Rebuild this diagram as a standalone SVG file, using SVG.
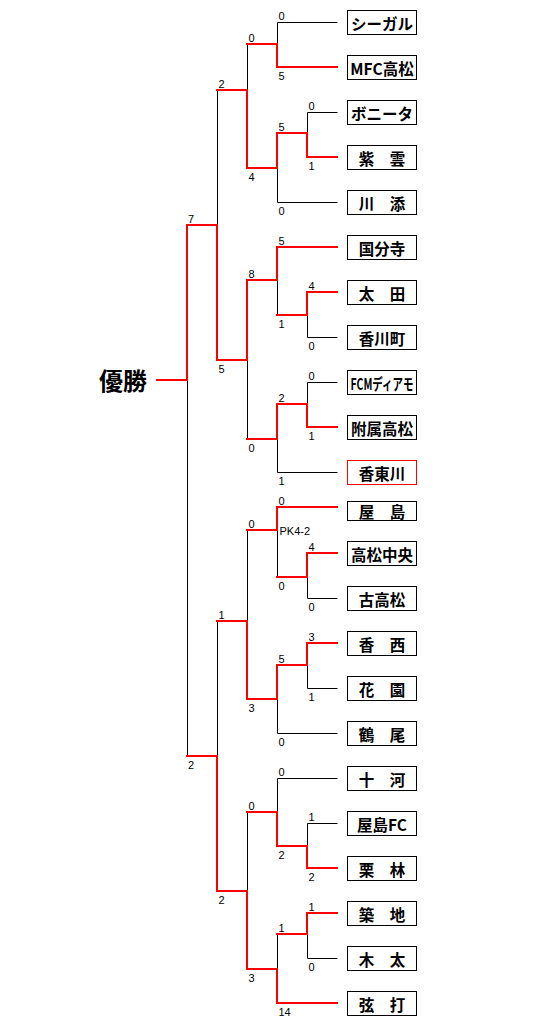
<svg xmlns="http://www.w3.org/2000/svg" width="540" height="1029" viewBox="0 0 540 1029">
<style>
.bk{fill:none;stroke:#000;stroke-width:1}
.rd{fill:none;stroke:#ff0000;stroke-width:2;stroke-linejoin:miter;stroke-linecap:square}
.box{fill:#fff;stroke:#000;stroke-width:1}
.boxr{fill:#fff;stroke:#ff0000;stroke-width:1}
.nm{font-family:"Noto Sans CJK JP","Liberation Sans",sans-serif;font-weight:bold;font-size:15.5px;text-anchor:middle;dominant-baseline:central;fill:#000}
.sc{font-family:"Liberation Sans",Arial,sans-serif;font-size:11px;fill:#000}
.win{font-family:"Noto Sans CJK JP","Liberation Sans",sans-serif;font-weight:bold;font-size:24px;text-anchor:middle;dominant-baseline:central;fill:#000}
</style>
<rect width="540" height="1029" fill="#fff"/>
<g id="connectors">
<g transform="translate(0.5,0.5)">
<polyline class="bk" points="337,22 277,22 277,44"/>
<polyline class="bk" points="337,112 307,112 307,133"/>
<polyline class="bk" points="277,168 277,202 337,202"/>
<polyline class="bk" points="247,44 247,90"/>
<polyline class="bk" points="217,90 217,225"/>
<polyline class="bk" points="307,315 307,337 337,337"/>
<polyline class="bk" points="277,280 277,315"/>
<polyline class="bk" points="337,382 307,382 307,404"/>
<polyline class="bk" points="277,439 277,472 337,472"/>
<polyline class="bk" points="247,360 247,439"/>
<polyline class="bk" points="187,380 187,756"/>
<polyline class="bk" points="307,577 307,598 337,598"/>
<polyline class="bk" points="277,530 277,577"/>
<polyline class="bk" points="307,665 307,688 337,688"/>
<polyline class="bk" points="277,699 277,733 337,733"/>
<polyline class="bk" points="247,530 247,621"/>
<polyline class="bk" points="217,621 217,756"/>
<polyline class="bk" points="337,778 277,778 277,812"/>
<polyline class="bk" points="337,823 307,823 307,846"/>
<polyline class="bk" points="247,812 247,891"/>
<polyline class="bk" points="307,934 307,958 337,958"/>
<polyline class="bk" points="277,934 277,969"/>
</g>
<polyline class="rd" points="337,67 277,67 277,44 247,44"/>
<polyline class="rd" points="337,157 307,157 307,133 277,133 277,168 247,168 247,90 217,90"/>
<polyline class="rd" points="337,247 277,247 277,280 247,280 247,360 217,360 217,225 187,225 187,380 157,380"/>
<polyline class="rd" points="337,292 307,292 307,315 277,315"/>
<polyline class="rd" points="337,427 307,427 307,404 277,404 277,439 247,439"/>
<polyline class="rd" points="337,507 277,507 277,530 247,530"/>
<polyline class="rd" points="337,553 307,553 307,577 277,577"/>
<polyline class="rd" points="337,643 307,643 307,665 277,665 277,699 247,699 247,621 217,621"/>
<polyline class="rd" points="337,868 307,868 307,846 277,846 277,812 247,812"/>
<polyline class="rd" points="337,913 307,913 307,934 277,934"/>
<polyline class="rd" points="337,1003 277,1003 277,969 247,969 247,891 217,891 217,756 187,756"/>
</g>
<g id="scores">
<text class="sc" x="278.5" y="19.5">0</text><text class="sc" x="278.5" y="79.5">5</text>
<text class="sc" x="308.5" y="109.5">0</text><text class="sc" x="308.5" y="169.5">1</text>
<text class="sc" x="278.5" y="130.5">5</text><text class="sc" x="278.5" y="214.5">0</text>
<text class="sc" x="248.5" y="41.5">0</text><text class="sc" x="248.5" y="180.5">4</text>
<text class="sc" x="218.5" y="87.5">2</text><text class="sc" x="218.5" y="372.5">5</text>
<text class="sc" x="278.5" y="244.5">5</text><text class="sc" x="278.5" y="327.5">1</text>
<text class="sc" x="308.5" y="289.5">4</text><text class="sc" x="308.5" y="349.5">0</text>
<text class="sc" x="248.5" y="277.5">8</text><text class="sc" x="248.5" y="451.5">0</text>
<text class="sc" x="308.5" y="379.5">0</text><text class="sc" x="308.5" y="439.5">1</text>
<text class="sc" x="278.5" y="401.5">2</text><text class="sc" x="278.5" y="484.5">1</text>
<text class="sc" x="188" y="222.5">7</text><text class="sc" x="188" y="768.5">2</text>
<text class="sc" x="278.5" y="504.5">0</text><text class="sc" x="278.5" y="589.5">0</text>
<text class="sc" x="279.5" y="535">PK4-2</text>
<text class="sc" x="308.5" y="550.5">4</text><text class="sc" x="308.5" y="610.5">0</text>
<text class="sc" x="248.5" y="527.5">0</text><text class="sc" x="248.5" y="711.5">3</text>
<text class="sc" x="218.5" y="618.5">1</text><text class="sc" x="218.5" y="903.5">2</text>
<text class="sc" x="308.5" y="640.5">3</text><text class="sc" x="308.5" y="700.5">1</text>
<text class="sc" x="278.5" y="662.5">5</text><text class="sc" x="278.5" y="745.5">0</text>
<text class="sc" x="278.5" y="775.5">0</text><text class="sc" x="278.5" y="858.5">2</text>
<text class="sc" x="308.5" y="820.5">1</text><text class="sc" x="308.5" y="880.5">2</text>
<text class="sc" x="248.5" y="809.5">0</text><text class="sc" x="248.5" y="981.5">3</text>
<text class="sc" x="308.5" y="910.5">1</text><text class="sc" x="308.5" y="970.5">0</text>
<text class="sc" x="278.5" y="931.5">1</text><text class="sc" x="278.5" y="1015.5">14</text>
</g>
<g id="champion"><text class="win" x="123" y="379">優勝</text></g>
<g id="t01"><rect class="box" x="347.5" y="10.5" width="69" height="24"/><text class="nm" x="382" y="22.5">シーガル</text></g>
<g id="t02"><rect class="box" x="347.5" y="55.5" width="69" height="24"/><text class="nm" x="382" y="67.5">MFC高松</text></g>
<g id="t03"><rect class="box" x="347.5" y="100.5" width="69" height="24"/><text class="nm" x="382" y="112.5">ボニータ</text></g>
<g id="t04"><rect class="box" x="347.5" y="145.5" width="69" height="24"/><text class="nm" x="382" y="157.5">紫　雲</text></g>
<g id="t05"><rect class="box" x="347.5" y="190.5" width="69" height="24"/><text class="nm" x="382" y="202.5">川　添</text></g>
<g id="t06"><rect class="box" x="347.5" y="235.5" width="69" height="24"/><text class="nm" x="382" y="247.5">国分寺</text></g>
<g id="t07"><rect class="box" x="347.5" y="280.5" width="69" height="24"/><text class="nm" x="382" y="292.5">太　田</text></g>
<g id="t08"><rect class="box" x="347.5" y="325.5" width="69" height="24"/><text class="nm" x="382" y="337.5">香川町</text></g>
<g id="t09"><rect class="box" x="347.5" y="370.5" width="69" height="24"/><text class="nm" x="382" y="382.5" textLength="63" lengthAdjust="spacingAndGlyphs">FCMディアモ</text></g>
<g id="t10"><rect class="box" x="347.5" y="415.5" width="69" height="24"/><text class="nm" x="382" y="427.5">附属高松</text></g>
<g id="t11"><rect class="boxr" x="347.5" y="460.5" width="69" height="24"/><text class="nm" x="382" y="472.5">香東川</text></g>
<g id="t12"><rect class="box" x="347.5" y="501.5" width="69" height="19"/><text class="nm" x="382" y="511">屋　島</text></g>
<g id="t13"><rect class="box" x="347.5" y="541.5" width="69" height="24"/><text class="nm" x="382" y="553.5">高松中央</text></g>
<g id="t14"><rect class="box" x="347.5" y="586.5" width="69" height="24"/><text class="nm" x="382" y="598.5">古高松</text></g>
<g id="t15"><rect class="box" x="347.5" y="631.5" width="69" height="24"/><text class="nm" x="382" y="643.5">香　西</text></g>
<g id="t16"><rect class="box" x="347.5" y="676.5" width="69" height="24"/><text class="nm" x="382" y="688.5">花　園</text></g>
<g id="t17"><rect class="box" x="347.5" y="721.5" width="69" height="24"/><text class="nm" x="382" y="733.5">鶴　尾</text></g>
<g id="t18"><rect class="box" x="347.5" y="766.5" width="69" height="24"/><text class="nm" x="382" y="778.5">十　河</text></g>
<g id="t19"><rect class="box" x="347.5" y="811.5" width="69" height="24"/><text class="nm" x="382" y="823.5">屋島FC</text></g>
<g id="t20"><rect class="box" x="347.5" y="856.5" width="69" height="24"/><text class="nm" x="382" y="868.5">栗　林</text></g>
<g id="t21"><rect class="box" x="347.5" y="901.5" width="69" height="24"/><text class="nm" x="382" y="913.5">築　地</text></g>
<g id="t22"><rect class="box" x="347.5" y="946.5" width="69" height="24"/><text class="nm" x="382" y="958.5">木　太</text></g>
<g id="t23"><rect class="box" x="347.5" y="991.5" width="69" height="24"/><text class="nm" x="382" y="1003.5">弦　打</text></g>
</svg>
